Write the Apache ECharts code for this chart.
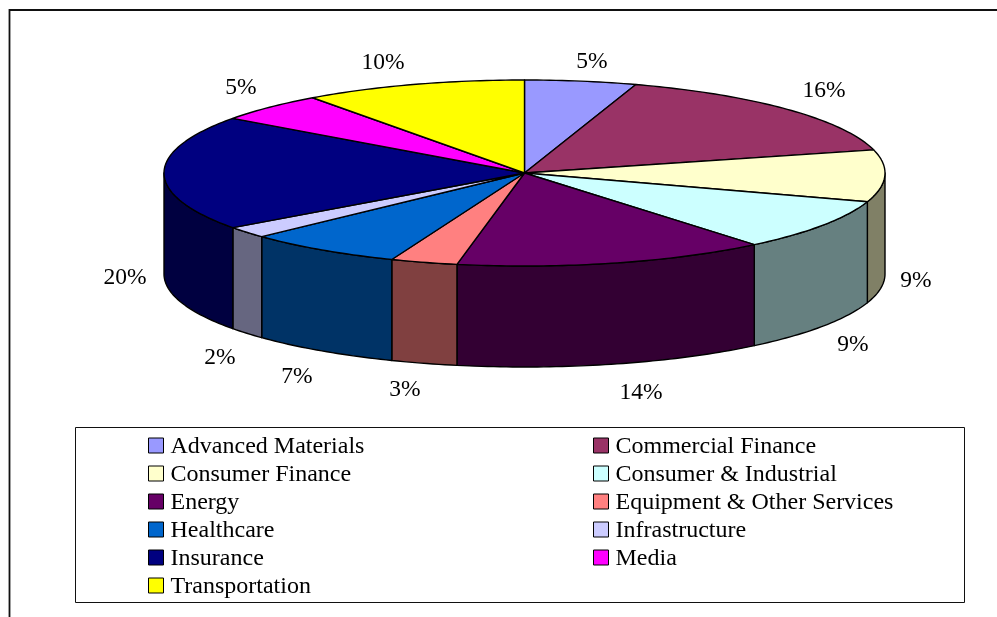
<!DOCTYPE html>
<html>
<head>
<meta charset="utf-8">
<style>
  html, body { margin: 0; padding: 0; background: #fff; }
  #chart { width: 997px; height: 617px; }
</style>
<script src="https://cdn.jsdelivr.net/npm/echarts@6/dist/echarts.min.js"></script>
</head>
<body>
<div id="chart"></div>
<script>
const categories = ['Advanced Materials', 'Commercial Finance', 'Consumer Finance', 'Consumer & Industrial', 'Energy', 'Equipment & Other Services', 'Healthcare', 'Infrastructure', 'Insurance', 'Media', 'Transportation']
const shares = [5, 16, 9, 9, 14, 3, 7, 2, 20, 5, 10]
const topColors = ['#9999FF', '#993366', '#FFFFCC', '#CCFFFF', '#660066', '#FF8080', '#0066CC', '#CCCCFF', '#000080', '#FF00FF', '#FFFF00']
const sideColors = ['#4D4D80', '#4D1A33', '#808066', '#668080', '#330033', '#804040', '#003366', '#666680', '#000040', '#800080', '#808000']

// layout of the tilted pie
const pie = { cx: 524.5, cy: 173, rx: 360.5, ry: 93, depth: 101 }
const labelSpots = [[592, 62], [824, 91], [916, 281], [853, 345], [641, 393], [405, 390], [297, 377], [220, 358], [125, 278], [241, 88], [383, 63]]
const serif = '"Liberation Serif", "Times New Roman", serif'
// square swatch with an empty stretch below it, so it sits a bit above the text middle
const swatchIcon = 'path://M0 0H15V15H0Z M0 18L0 18'

const total = shares.reduce((a, b) => a + b, 0)

function rimPoint(deg, drop) {
  const rad = deg * Math.PI / 180
  return [pie.cx + pie.rx * Math.sin(rad), pie.cy - pie.ry * Math.cos(rad) + (drop || 0)]
}

function rimArc(from, to, drop) {
  const pts = []
  const steps = Math.max(2, Math.ceil(Math.abs(to - from)))
  for (let i = 0; i <= steps; i++) {
    pts.push(rimPoint(from + (to - from) * i / steps, drop))
  }
  return pts
}

function buildSeries() {
  let running = 0
  return categories.map((name, index) => {
    const from = running / total * 360
    running += shares[index]
    const to = running / total * 360
    return {
      name: name,
      type: 'custom',
      coordinateSystem: 'none',
      silent: true,
      itemStyle: { color: topColors[index] },
      data: [shares[index]],
      renderItem: (params, api) => {
        const children = []
        const stroke = { stroke: '#000', lineWidth: 1.4, lineJoin: 'round' }
        // the wall only shows on the front half of the rim
        const wallFrom = Math.max(from, 90)
        const wallTo = Math.min(to, 270)
        if (wallFrom < wallTo) {
          const upper = rimArc(wallFrom, wallTo, 0)
          const lower = rimArc(wallTo, wallFrom, pie.depth)
          children.push({
            type: 'polygon',
            shape: { points: upper.concat(lower) },
            style: Object.assign({ fill: sideColors[index] }, stroke)
          })
        }
        children.push({
          type: 'polygon',
          shape: { points: [[pie.cx, pie.cy]].concat(rimArc(from, to, 0)) },
          style: Object.assign({ fill: topColors[index] }, stroke)
        })
        children.push({
          type: 'text',
          z2: 10,
          style: {
            text: api.value(0) + '%',
            x: labelSpots[index][0],
            y: labelSpots[index][1],
            align: 'center',
            verticalAlign: 'middle',
            fill: '#000',
            font: '23.5px ' + serif
          }
        })
        return { type: 'group', children: children }
      }
    }
  })
}

function legendColumn(left, names) {
  return {
    left: left,
    top: 435,
    orient: 'vertical',
    padding: 0,
    itemWidth: 15,
    itemHeight: 18,
    itemGap: 4,
    icon: swatchIcon,
    selectedMode: false,
    itemStyle: { borderColor: '#000', borderWidth: 1 },
    textStyle: { fontFamily: serif, fontSize: 24, color: '#000', padding: [0, 0, 0, 2], lineHeight: 22 },
    data: names
  }
}

const chart = echarts.init(document.getElementById('chart'))
chart.setOption({
  animation: false,
  backgroundColor: '#fff',
  graphic: [
    { type: 'polyline', silent: true, shape: { points: [[9.5, 617], [9.5, 10], [997, 10]] }, style: { fill: null, stroke: '#111', lineWidth: 1.8 } },
    { type: 'rect', silent: true, z: -1, shape: { x: 75.5, y: 427.5, width: 889, height: 175 }, style: { fill: '#fff', stroke: '#111', lineWidth: 1 } }
  ],
  legend: [
    legendColumn(148, categories.filter((c, i) => i % 2 === 0)),
    legendColumn(593, categories.filter((c, i) => i % 2 === 1))
  ],
  series: buildSeries()
})
</script>
</body>
</html>
